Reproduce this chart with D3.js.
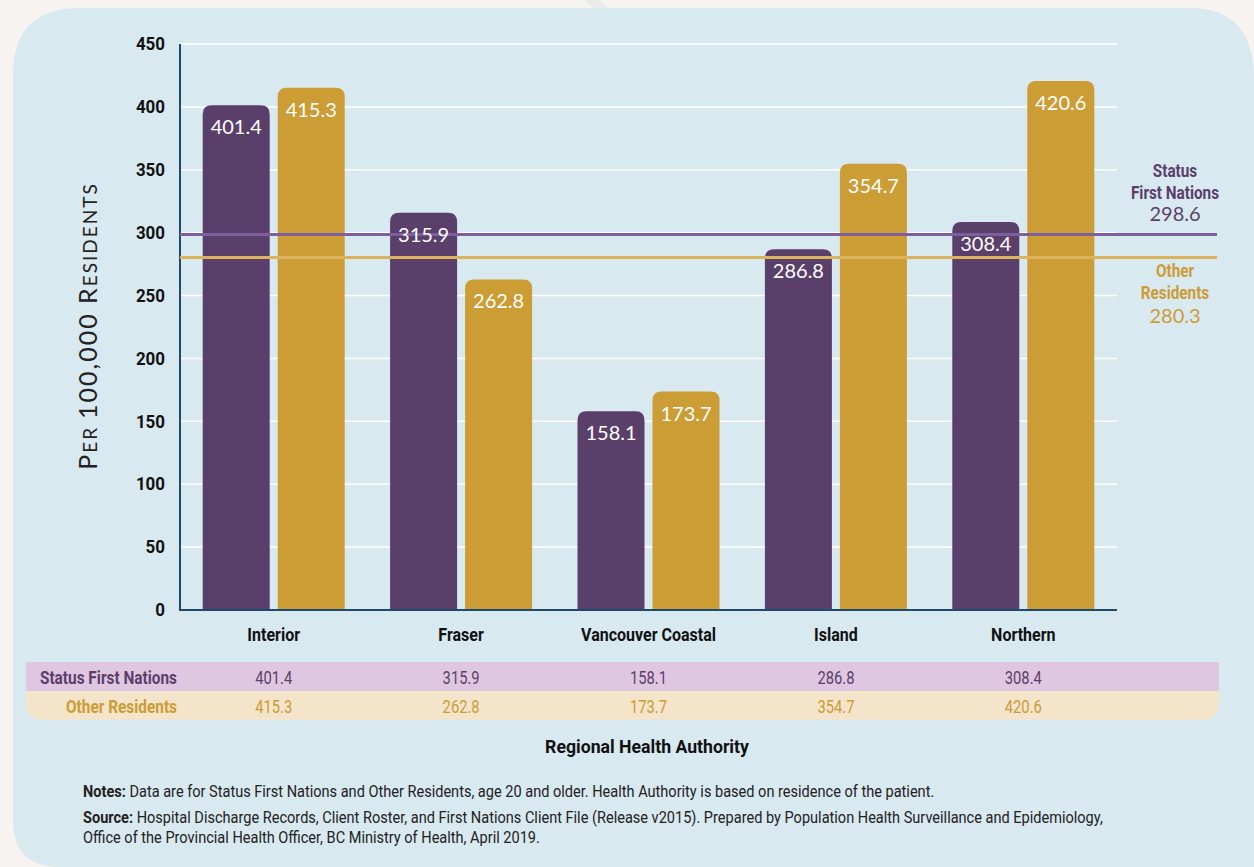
<!DOCTYPE html>
<html><head><meta charset="utf-8">
<script src="https://cdn.jsdelivr.net/npm/d3@7"></script>
<style>
html,body{margin:0;padding:0;background:#f7f3f0;}
svg{display:block;}
</style></head>
<body>
<svg id="c" width="1254" height="867"></svg>
<script>
const categories = ["Interior","Fraser","Vancouver Coastal","Island","Northern"];
const sfnValues = [401.4,315.9,158.1,286.8,308.4];
const otherValues = [415.3,262.8,173.7,354.7,420.6];
const seriesNames = ["Status First Nations","Other Residents"];
const averages = [298.6,280.3];
const yTicks = [0,50,100,150,200,250,300,350,400,450];

const COND = "Roboto,'Noto Sans',sans-serif";
const ROUND = "Lato,'Noto Sans',sans-serif";
const colors = ["#5b3f6b","#cc9c35"];
const lightCols = ["#e0c7e1","#f3e4ca"];
const textCols = ["#5b3f6b","#cc9c35"];
const SX = 0.88;

const svg = d3.select("#c");
function ctext(parent, x, y, str, o){
  o = o || {};
  const t = parent.append("text")
    .attr("transform",`translate(${x},${y}) scale(${o.sx||SX},1)`)
    .attr("text-anchor",o.anchor||"start")
    .attr("font-family",o.family||COND)
    .attr("font-weight",o.weight||"normal")
    .attr("font-size",o.size||17)
    .attr("fill",o.fill||"#111");
  if(str!==null) t.text(str);
  return t;
}

// panel
svg.append("path").attr("fill","#d9e9f0")
  .attr("d","M13,75 Q13,8 80,8 L1190,8 Q1254,8 1254,80 L1254,867 L60,867 Q13,867 13,820 Z");
svg.append("path").attr("fill","#ebebeb").attr("d","M585,0 L600,0 L608,8 L593,8 Z");

const x0 = d3.scaleBand().domain(categories).range([180,1117]);
const y = d3.scaleLinear().domain([0,450]).range([610,44]);

// grid
svg.append("g").selectAll("line").data(yTicks.filter(d=>d>0)).join("line")
  .attr("x1",180).attr("x2",1117).attr("y1",d=>y(d)).attr("y2",d=>y(d))
  .attr("stroke","#ffffff").attr("stroke-width",1.5);

// y axis tick labels via axis generator
const yAxis = d3.axisLeft(y).tickValues(yTicks).tickSize(0).tickPadding(0);
const ga = svg.append("g").attr("transform","translate(165,0)").call(yAxis);
ga.select(".domain").remove();
ga.selectAll("text").attr("x",0).attr("font-family",COND).attr("font-weight","bold")
  .attr("font-size",18).attr("fill","#111").attr("transform","scale(0.94,1)");

const series = [sfnValues, otherValues];
function roundTop(x,yTop,w,h,r){
  r=Math.min(r,h);
  return `M${x},${yTop+h} L${x},${yTop+r} Q${x},${yTop} ${x+r},${yTop} L${x+w-r},${yTop} Q${x+w},${yTop} ${x+w},${yTop+r} L${x+w},${yTop+h} Z`;
}
const bw = 67;
const barX = (s,i)=>{
  const cx = x0(categories[i]) + x0.bandwidth()/2;
  return s===0 ? cx - 4 - bw : cx + 4;
};
series.forEach((vals,s)=>{
  svg.append("g").selectAll("path").data(vals).join("path")
    .attr("d",(v,i)=>roundTop(barX(s,i),y(v),bw,y(0)-y(v),9)).attr("fill",colors[s]);
});

// axes lines
svg.append("line").attr("x1",180).attr("x2",180).attr("y1",44).attr("y2",611).attr("stroke","#1d4a6e").attr("stroke-width",2);
svg.append("line").attr("x1",179).attr("x2",1117).attr("y1",610).attr("y2",610).attr("stroke","#1d4a6e").attr("stroke-width",2);

// reference lines
const refCols = ["#7e5f9e","#dab35c"];
averages.forEach((a,s)=>{
  svg.append("line").attr("x1",180).attr("x2",1217).attr("y1",y(a)).attr("y2",y(a))
    .attr("stroke",refCols[s]).attr("stroke-width",3);
});

// bar labels (on top of lines)
series.forEach((vals,s)=>{
  svg.append("g").selectAll("text").data(vals).join("text")
    .attr("x",(v,i)=>barX(s,i)+bw/2).attr("y",v=>y(v)+29).attr("text-anchor","middle")
    .attr("font-family",ROUND).attr("font-size",20).attr("fill","#fff").text(v=>v.toFixed(1));
});

// right labels
const rl = svg.append("g");
ctext(rl,1175,177,"Status",{anchor:"middle",weight:"bold",size:18,fill:textCols[0],sx:0.85});
ctext(rl,1175,199,"First Nations",{anchor:"middle",weight:"bold",size:18,fill:textCols[0],sx:0.85});
ctext(rl,1175,221,averages[0].toFixed(1),{anchor:"middle",family:ROUND,size:20,fill:textCols[0],sx:1});
ctext(rl,1175,277,"Other",{anchor:"middle",weight:"bold",size:18,fill:textCols[1],sx:0.85});
ctext(rl,1175,299,"Residents",{anchor:"middle",weight:"bold",size:18,fill:textCols[1],sx:0.85});
ctext(rl,1175,323,averages[1].toFixed(1),{anchor:"middle",family:ROUND,size:20,fill:textCols[1],sx:1});

// category labels
const cg = svg.append("g");
categories.forEach(c=>ctext(cg,x0(c)+x0.bandwidth()/2,641,c,{anchor:"middle",weight:"bold",size:18,sx:0.89}));

// table
svg.append("rect").attr("x",26).attr("y",662).attr("width",1193).attr("height",29).attr("fill",lightCols[0]);
svg.append("path").attr("fill",lightCols[1])
  .attr("d","M26,691 L1219,691 L1219,702 Q1219,720 1201,720 L44,720 Q26,720 26,702 Z");
const rowY = [684,713];
series.forEach((vals,s)=>{
  const tg = svg.append("g");
  ctext(tg,177,rowY[s],seriesNames[s],{anchor:"end",weight:"bold",size:18,fill:textCols[s],sx:0.855});
  vals.forEach((v,i)=>ctext(tg,x0(categories[i])+x0.bandwidth()/2,rowY[s],v.toFixed(1),
    {anchor:"middle",size:18,fill:textCols[s],sx:0.82}));
});

ctext(svg,647,753,"Regional Health Authority",{anchor:"middle",weight:"bold",size:19,sx:0.93});

// y title
const yt = svg.append("text").attr("transform","translate(97,326) rotate(-90)").attr("text-anchor","middle")
  .attr("font-family",ROUND).attr("fill","#222").attr("letter-spacing",2);
yt.append("tspan").attr("font-size",25).text("P");
yt.append("tspan").attr("font-size",19).text("ER ");
yt.append("tspan").attr("font-size",25).text("100,000 R");
yt.append("tspan").attr("font-size",19).text("ESIDENTS");

// notes
const nt = svg.append("g");
const NS = 0.91;
const n1 = ctext(nt,83,797,null,{size:16,fill:"#222",sx:NS});
n1.append("tspan").attr("font-weight","bold").text("Notes:");
n1.append("tspan").text(" Data are for Status First Nations and Other Residents, age 20 and older. Health Authority is based on residence of the patient.");
const n2 = ctext(nt,83,823,null,{size:16,fill:"#222",sx:NS});
n2.append("tspan").attr("font-weight","bold").text("Source:");
n2.append("tspan").text(" Hospital Discharge Records, Client Roster, and First Nations Client File (Release v2015). Prepared by Population Health Surveillance and Epidemiology,");
ctext(nt,83,843,"Office of the Provincial Health Officer, BC Ministry of Health, April 2019.",{size:16,fill:"#222",sx:NS});
</script>
</body></html>
